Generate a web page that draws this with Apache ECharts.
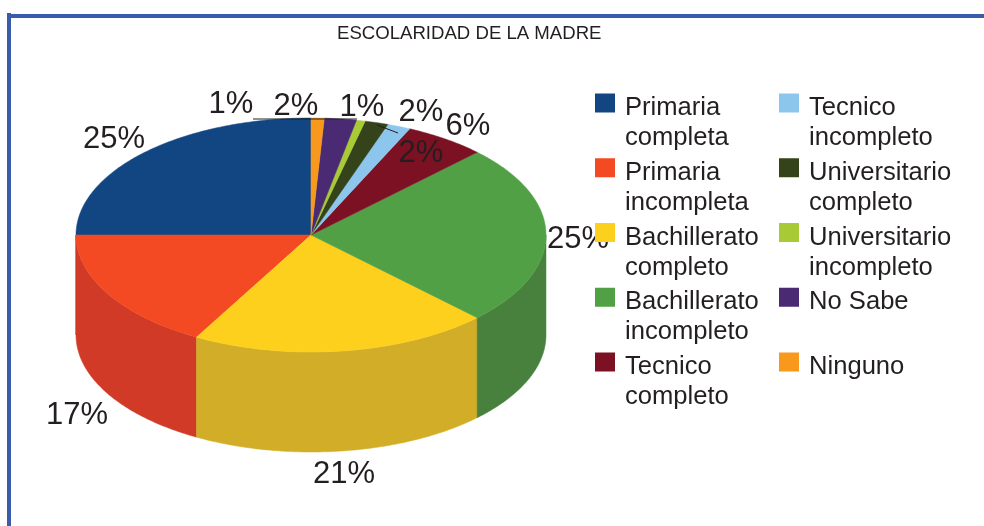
<!DOCTYPE html>
<html>
<head>
<meta charset="utf-8">
<style>
  html, body { margin: 0; padding: 0; background: #fff; }
  #chart { width: 984px; height: 526px; }
</style>
<script src="https://cdn.jsdelivr.net/npm/echarts@6/dist/echarts.min.js"></script>
</head>
<body>
<div id="chart"></div>
<script>
const titleText = 'ESCOLARIDAD DE LA MADRE'
const categories = [
  'Primaria\ncompleta', 'Primaria\nincompleta', 'Bachillerato\ncompleto', 'Bachillerato\nincompleto',
  'Tecnico\ncompleto', 'Tecnico\nincompleto', 'Universitario\ncompleto', 'Universitario\nincompleto',
  'No Sabe', 'Ninguno'
]
// slice sizes, the printed labels are rounded
const values = [25, 16.9, 20.6, 25, 5.6, 1.6, 1.6, 0.6, 2.2, 0.9]
const percentLabels = ['25%', '17%', '21%', '25%', '6%', '2%', '2%', '1%', '2%', '1%']

const topColors = ['#124682', '#f44a23', '#fdd01e', '#52a045', '#7c1124', '#8dc6ec', '#35431a', '#a8cb35', '#4a2a72', '#f8981d']
const wallColors = ['#0f3a6c', '#d13a27', '#d2ae28', '#47813d', '#640e1d', '#75a4c4', '#2c3716', '#8ba82c', '#3d235e', '#ce7e18']
const labelSpots = [[114, 139], [77, 415], [344, 474], [578, 239], [468, 126], [421, 112], [421, 153], [362, 107], [296, 106], [231, 104]]

const cx = 311
const cy = 235
const rx = 235
const ry = 117
const depth = 100
const total = values.reduce((a, b) => a + b, 0)

function rimPoint(angle, drop) {
  // angle runs counter clockwise from 12 o'clock
  return [cx - rx * Math.sin(angle), cy - ry * Math.cos(angle) + drop]
}

function arcPoints(from, to, drop) {
  const steps = Math.max(2, Math.ceil((to - from) / 0.01))
  const pts = []
  for (let i = 0; i <= steps; i++) {
    pts.push(rimPoint(from + (to - from) * i / steps, drop))
  }
  return pts
}

function sliceRenderer(index) {
  const before = values.slice(0, index).reduce((a, b) => a + b, 0)
  return function (params, api) {
    const start = before / total * Math.PI * 2
    const end = start + api.value(0) / total * Math.PI * 2
    const children = []
    // only the front half of the rim has a visible wall
    const wallFrom = Math.max(start, Math.PI / 2)
    const wallTo = Math.min(end, Math.PI * 1.5)
    if (wallTo > wallFrom) {
      const upper = arcPoints(wallFrom, wallTo, 0)
      const lower = arcPoints(wallFrom, wallTo, depth).reverse()
      children.push({
        type: 'polygon',
        shape: { points: upper.concat(lower) },
        style: { fill: wallColors[index], stroke: wallColors[index], lineWidth: 0.5 }
      })
    }
    children.push({
      type: 'polygon',
      shape: { points: [[cx, cy]].concat(arcPoints(start, end, 0)) },
      style: { fill: topColors[index], stroke: topColors[index], lineWidth: 0.5 }
    })
    return { type: 'group', children: children }
  }
}

const labelElements = percentLabels.map((text, i) => ({
  type: 'text',
  x: labelSpots[i][0],
  y: labelSpots[i][1],
  z: 3,
  style: {
    text: text,
    align: 'center',
    verticalAlign: 'middle',
    fontFamily: 'Liberation Sans',
    fontSize: 31,
    fill: '#231f20'
  }
}))

const frame = '#3a5dab'
const chart = echarts.init(document.getElementById('chart'), null, { renderer: 'canvas' })

function legendBlock(names, left) {
  return {
    data: names,
    orient: 'vertical',
    left: left,
    top: 63,
    itemWidth: 20,
    itemHeight: 19,
    itemGap: -18.25,
    icon: 'rect',
    selectedMode: false,
    // an empty line above the name keeps the swatch near the top of its first line
    formatter: function (name) {
      const lines = name.split('\n')
      return '{gap| }\n{line|' + lines[0] + '}\n{line|' + (lines[1] || ' ') + '}'
    },
    textStyle: {
      padding: [0, 0, 0, 5],
      rich: {
        gap: { fontSize: 10, lineHeight: 40 },
        line: {
          fontFamily: 'Liberation Sans',
          fontSize: 25.6,
          lineHeight: 30,
          color: '#231f20'
        }
      }
    }
  }
}

chart.setOption({
  animation: false,
  backgroundColor: '#fff',
  title: {
    text: titleText,
    left: 337,
    top: 24,
    padding: 0,
    textStyle: {
      fontFamily: 'Liberation Sans',
      fontSize: 18.6,
      fontWeight: 'normal',
      color: '#231f20'
    }
  },
  legend: [
    legendBlock(categories.slice(0, 5), 590),
    legendBlock(categories.slice(5), 774)
  ],
  graphic: {
    elements: labelElements.concat([
      { type: 'rect', z: 3, shape: { x: 7, y: 14, width: 977, height: 4 }, style: { fill: frame } },
      { type: 'rect', z: 3, shape: { x: 7, y: 13, width: 4, height: 513 }, style: { fill: frame } },
      { type: 'line', z: 3, shape: { x1: 253, y1: 119, x2: 357, y2: 119 }, style: { stroke: '#231f20', lineWidth: 1 } },
      { type: 'line', z: 3, shape: { x1: 377, y1: 125, x2: 398, y2: 133 }, style: { stroke: '#231f20', lineWidth: 1 } }
    ])
  },
  series: categories.map((name, i) => ({
    type: 'custom',
    name: name,
    coordinateSystem: 'none',
    silent: true,
    itemStyle: { color: topColors[i] },
    data: [[values[i]]],
    renderItem: sliceRenderer(i)
  }))
})
</script>
</body>
</html>
